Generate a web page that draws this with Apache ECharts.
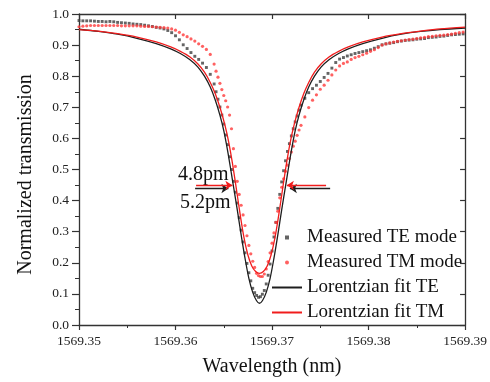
<!DOCTYPE html>
<html>
<head>
<meta charset="utf-8">
<script src="https://cdn.jsdelivr.net/npm/echarts@6/dist/echarts.min.js"></script>
<style>
  html, body { margin: 0; padding: 0; background: #fff; }
  #chart { width: 490px; height: 382px; }
</style>
</head>
<body>
<div id="chart"></div>
<script>
// measured wavelength grid (nm), shared by both modes
const measWl = [
  1569.3500, 1569.3504, 1569.3508, 1569.3512, 1569.3516, 1569.3520, 1569.3524, 1569.3528, 1569.3532,
  1569.3536, 1569.3540, 1569.3544, 1569.3548, 1569.3552, 1569.3556, 1569.3560, 1569.3564, 1569.3568,
  1569.3572, 1569.3576, 1569.3580, 1569.3584, 1569.3588, 1569.3592, 1569.3596, 1569.3600, 1569.3604,
  1569.3608, 1569.3612, 1569.3616, 1569.3620, 1569.3624, 1569.3628, 1569.3632, 1569.3636, 1569.3640,
  1569.3642, 1569.3644, 1569.3646, 1569.3648, 1569.3650, 1569.3652, 1569.3654, 1569.3656, 1569.3658,
  1569.3660, 1569.3662, 1569.3664, 1569.3666, 1569.3668, 1569.3670, 1569.3672, 1569.3674, 1569.3676,
  1569.3678, 1569.3680, 1569.3682, 1569.3684, 1569.3686, 1569.3688, 1569.3690, 1569.3692, 1569.3694,
  1569.3696, 1569.3698, 1569.3700, 1569.3702, 1569.3704, 1569.3706, 1569.3708, 1569.3710, 1569.3712,
  1569.3714, 1569.3716, 1569.3718, 1569.3720, 1569.3722, 1569.3724, 1569.3726, 1569.3728, 1569.3730,
  1569.3734, 1569.3738, 1569.3742, 1569.3746, 1569.3750, 1569.3754, 1569.3758, 1569.3762, 1569.3766,
  1569.3770, 1569.3774, 1569.3778, 1569.3782, 1569.3786, 1569.3790, 1569.3794, 1569.3798, 1569.3802,
  1569.3806, 1569.3810, 1569.3814, 1569.3818, 1569.3822, 1569.3826, 1569.3830, 1569.3834, 1569.3838,
  1569.3842, 1569.3846, 1569.3850, 1569.3854, 1569.3858, 1569.3862, 1569.3866, 1569.3870, 1569.3874,
  1569.3878, 1569.3882, 1569.3886, 1569.3890, 1569.3894, 1569.3898
];

const teMeas = [
  0.979, 0.978, 0.978, 0.978, 0.977, 0.976, 0.976, 0.975, 0.976,
  0.975, 0.973, 0.972, 0.971, 0.970, 0.968, 0.967, 0.966, 0.964,
  0.962, 0.960, 0.957, 0.955, 0.952, 0.947, 0.940, 0.930, 0.917,
  0.901, 0.889, 0.876, 0.864, 0.854, 0.842, 0.828, 0.806, 0.775,
  0.750, 0.726, 0.701, 0.675, 0.646, 0.611, 0.580, 0.541, 0.500,
  0.462, 0.427, 0.392, 0.345, 0.305, 0.267, 0.232, 0.198, 0.168,
  0.142, 0.118, 0.104, 0.095, 0.089, 0.091, 0.099, 0.111, 0.132,
  0.160, 0.196, 0.238, 0.283, 0.330, 0.375, 0.420, 0.460, 0.496,
  0.528, 0.558, 0.583, 0.608, 0.631, 0.653, 0.672, 0.691, 0.707,
  0.729, 0.747, 0.760, 0.771, 0.783, 0.796, 0.809, 0.826, 0.844,
  0.855, 0.860, 0.865, 0.869, 0.873, 0.876, 0.879, 0.882, 0.885,
  0.890, 0.895, 0.901, 0.904, 0.906, 0.908, 0.911, 0.913, 0.915,
  0.916, 0.917, 0.919, 0.920, 0.921, 0.924, 0.925, 0.926, 0.928,
  0.929, 0.931, 0.933, 0.934, 0.935, 0.936
];

const tmMeas = [
  0.959, 0.961, 0.962, 0.963, 0.963, 0.963, 0.963, 0.963, 0.963,
  0.963, 0.963, 0.962, 0.962, 0.962, 0.962, 0.962, 0.961, 0.960,
  0.960, 0.959, 0.958, 0.957, 0.956, 0.955, 0.952, 0.948, 0.941,
  0.933, 0.927, 0.920, 0.913, 0.904, 0.896, 0.886, 0.870, 0.839,
  0.816, 0.797, 0.777, 0.757, 0.738, 0.721, 0.701, 0.675, 0.631,
  0.567, 0.510, 0.462, 0.420, 0.385, 0.354, 0.320, 0.287, 0.256,
  0.229, 0.205, 0.185, 0.166, 0.159, 0.156, 0.156, 0.164, 0.180,
  0.204, 0.232, 0.263, 0.296, 0.330, 0.366, 0.409, 0.443, 0.470,
  0.494, 0.514, 0.535, 0.556, 0.575, 0.591, 0.610, 0.627, 0.642,
  0.669, 0.699, 0.723, 0.740, 0.758, 0.771, 0.787, 0.804, 0.820,
  0.833, 0.841, 0.846, 0.854, 0.860, 0.864, 0.869, 0.874, 0.880,
  0.885, 0.892, 0.900, 0.904, 0.907, 0.910, 0.912, 0.914, 0.916,
  0.918, 0.919, 0.921, 0.923, 0.925, 0.927, 0.928, 0.930, 0.931,
  0.932, 0.934, 0.935, 0.938, 0.940, 0.942
];

// Lorentzian fits
const teFit = [
  [1569.3500, 0.951], [1569.3520, 0.944], [1569.3540, 0.935], [1569.3560, 0.922],
  [1569.3580, 0.905], [1569.3595, 0.888], [1569.3605, 0.873], [1569.3615, 0.853],
  [1569.3623, 0.830], [1569.3630, 0.800], [1569.3636, 0.765], [1569.3641, 0.725],
  [1569.3646, 0.675], [1569.3650, 0.625], [1569.3654, 0.560], [1569.3658, 0.485],
  [1569.36604, 0.439], [1569.3664, 0.370], [1569.3668, 0.290], [1569.3672, 0.215],
  [1569.3676, 0.150], [1569.3680, 0.105], [1569.3684, 0.078], [1569.3687, 0.070],
  [1569.3690, 0.078], [1569.3694, 0.105], [1569.3698, 0.150], [1569.3702, 0.215],
  [1569.3706, 0.290], [1569.3710, 0.370], [1569.37136, 0.439], [1569.3716, 0.485],
  [1569.3720, 0.560], [1569.3724, 0.625], [1569.3728, 0.675], [1569.3733, 0.725],
  [1569.3738, 0.765], [1569.3744, 0.800], [1569.3751, 0.830], [1569.3759, 0.853],
  [1569.3769, 0.873], [1569.3779, 0.888], [1569.3794, 0.905], [1569.3814, 0.922],
  [1569.3834, 0.935], [1569.3854, 0.944], [1569.3874, 0.950], [1569.3900, 0.955]
];

const tmFit = [
  [1569.3500, 0.950], [1569.3520, 0.945], [1569.3540, 0.937], [1569.3560, 0.926],
  [1569.3580, 0.910], [1569.3595, 0.894], [1569.3605, 0.880], [1569.3615, 0.862],
  [1569.3623, 0.840], [1569.3630, 0.813], [1569.3636, 0.780], [1569.3641, 0.745],
  [1569.3646, 0.700], [1569.3651, 0.645], [1569.3655, 0.590], [1569.3659, 0.520],
  [1569.36625, 0.449], [1569.3667, 0.355], [1569.3671, 0.280], [1569.3675, 0.225],
  [1569.3679, 0.190], [1569.3683, 0.172], [1569.3687, 0.166], [1569.3691, 0.172],
  [1569.3695, 0.190], [1569.3699, 0.225], [1569.3703, 0.280], [1569.3707, 0.355],
  [1569.37115, 0.449], [1569.3715, 0.520], [1569.3719, 0.590], [1569.3723, 0.645],
  [1569.3728, 0.700], [1569.3733, 0.745], [1569.3738, 0.780], [1569.3744, 0.813],
  [1569.3751, 0.840], [1569.3759, 0.862], [1569.3769, 0.880], [1569.3779, 0.894],
  [1569.3794, 0.910], [1569.3814, 0.926], [1569.3834, 0.937], [1569.3854, 0.945],
  [1569.3874, 0.952], [1569.3900, 0.958]
];

const xMin = 1569.35, xMax = 1569.39, xStep = 0.01;
const yMin = 0, yMax = 1, yStep = 0.1;
const legendNames = ['Measured TE mode', 'Measured TM mode', 'Lorentzian fit TE', 'Lorentzian fit TM'];
const fwhmLabels = ['4.8pm', '5.2pm'];

const FONT = '"Liberation Serif", "Times New Roman", serif';
const AXIS = '#333';

const chart = echarts.init(document.getElementById('chart'));

const tickLine = {lineStyle: {color: AXIS, width: 1.2}};

chart.setOption({
    animation: false,
    grid: {left: 79, right: 22, top: 14, bottom: 54},
    xAxis: [{
        type: 'value', min: xMin, max: xMax, interval: xStep,
        axisLine: {show: true, onZero: false, lineStyle: {color: AXIS, width: 1.3}},
        axisTick: {show: true, inside: false, length: 5, ...tickLine},
        minorTick: {show: true, splitNumber: 2, length: 3, lineStyle: {color: AXIS, width: 1}},
        axisLabel: {fontFamily: FONT, fontSize: 13.5, color: '#222', margin: 9,
            formatter: v => v.toFixed(2)},
        splitLine: {show: false},
        name: 'Wavelength (nm)', nameLocation: 'middle', nameGap: 32,
        nameTextStyle: {fontFamily: FONT, fontSize: 20, color: '#111'}
    }, {
        type: 'value', position: 'top', min: xMin, max: xMax, interval: xStep,
        axisLine: {show: true, onZero: false, lineStyle: {color: AXIS, width: 1.3}},
        axisTick: {show: true, inside: true, length: 5, ...tickLine},
        axisLabel: {show: false},
        splitLine: {show: false}
    }],
    yAxis: [{
        type: 'value', min: yMin, max: yMax, interval: yStep,
        axisLine: {show: true, onZero: false, lineStyle: {color: AXIS, width: 1.3}},
        axisTick: {show: true, inside: false, length: 7, ...tickLine},
        minorTick: {show: true, splitNumber: 2, length: 4, lineStyle: {color: AXIS, width: 1}},
        axisLabel: {fontFamily: FONT, fontSize: 13.5, color: '#222', margin: 10,
            formatter: v => v.toFixed(1)},
        splitLine: {show: false},
        name: 'Normalized transmission', nameLocation: 'middle', nameGap: 43,
        nameTextStyle: {fontFamily: FONT, fontSize: 20, color: '#111', padding: [0, 10, 0, 0]}
    }, {
        type: 'value', position: 'right', min: yMin, max: yMax, interval: yStep,
        axisLine: {show: true, onZero: false, lineStyle: {color: AXIS, width: 1.3}},
        axisTick: {show: true, inside: true, length: 5, ...tickLine},
        axisLabel: {show: false},
        splitLine: {show: false}
    }],
    legend: {
        orient: 'vertical', left: 271, top: 228, padding: 0,
        itemWidth: 30, itemHeight: 4, itemGap: 6,
        textStyle: {fontFamily: FONT, fontSize: 19, color: '#111', lineHeight: 19},
        data: [
            {name: legendNames[0], icon: 'path://M0,0h10v10h-10z'},
            {name: legendNames[1], icon: 'circle'},
            {name: legendNames[2], itemStyle: {opacity: 0}},
            {name: legendNames[3], itemStyle: {opacity: 0}}
        ]
    },
    graphic: [
        {type: 'text', left: 178, top: 165, silent: true,
            style: {text: fwhmLabels[0], font: '20px ' + FONT, fill: '#111'}},
        {type: 'text', left: 180, top: 193, silent: true,
            style: {text: fwhmLabels[1], font: '20px ' + FONT, fill: '#111'}}
    ],
    series: [{
        name: legendNames[0], type: 'scatter', silent: true,
        data: measWl.map((w, i) => [w, teMeas[i]]),
        symbol: 'rect', symbolSize: 2.9,
        itemStyle: {color: '#3d3d3d'}
    }, {
        name: legendNames[1], type: 'scatter', silent: true,
        data: measWl.map((w, i) => [w, tmMeas[i]]),
        symbol: 'circle', symbolSize: 3.2,
        itemStyle: {color: '#ff3a3a'}
    }, {
        name: legendNames[2], type: 'line', silent: true,
        data: teFit, showSymbol: false, symbol: 'none',
        smooth: 0.3,
        lineStyle: {color: '#1e1e1e', width: 1.3},
        itemStyle: {color: '#1e1e1e'},
        markLine: {
            silent: true, symbol: ['none', 'arrow'], symbolSize: 7,
            lineStyle: {color: '#1e1e1e', width: 1.3, type: 'solid'},
            label: {show: false},
            data: [
                [{coord: [1569.36203, 0.439]}, {coord: [1569.36548, 0.439]}],
                [{coord: [1569.37602, 0.439]}, {coord: [1569.37185, 0.439]}]
            ]
        }
    }, {
        name: legendNames[3], type: 'line', silent: true,
        data: tmFit, showSymbol: false, symbol: 'none',
        smooth: 0.3,
        lineStyle: {color: '#f01c1c', width: 1.3},
        itemStyle: {color: '#f01c1c'},
        markLine: {
            silent: true, symbol: ['none', 'arrow'], symbolSize: 7,
            lineStyle: {color: '#f01c1c', width: 1.3, type: 'solid'},
            label: {show: false},
            data: [
                [{coord: [1569.36213, 0.449]}, {coord: [1569.36589, 0.449]}],
                [{coord: [1569.37560, 0.449]}, {coord: [1569.37154, 0.449]}]
            ]
        }
    }]
});
</script>
</body>
</html>
